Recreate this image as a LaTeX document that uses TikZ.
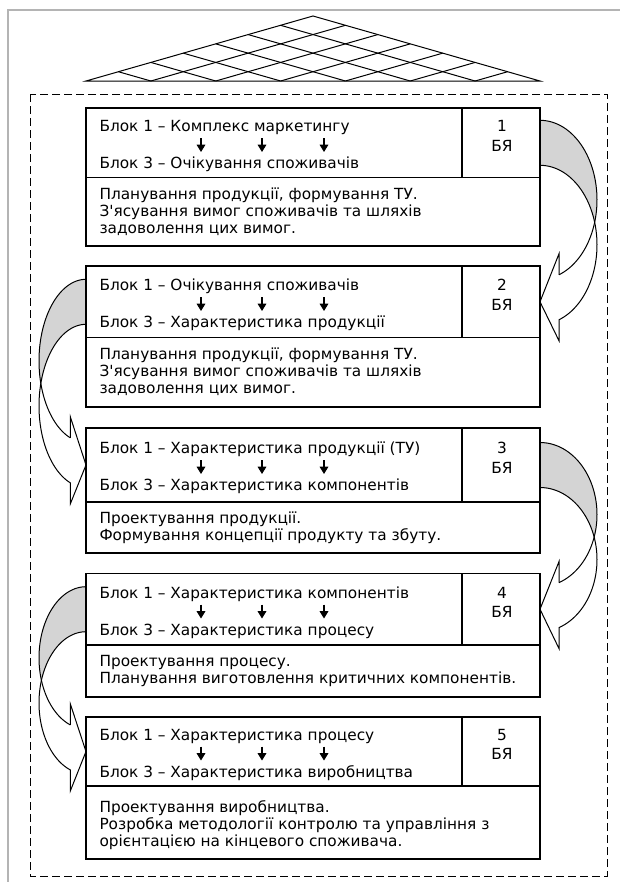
\documentclass[tikz,border=0pt]{standalone}
\usepackage{fontspec}
\setmainfont{DejaVu Sans}
\usetikzlibrary{arrows.meta}
\definecolor{foldgray}{HTML}{D4D4D4}
\definecolor{rimgray}{HTML}{B4B4B4}

\tikzset{
  txt/.style={anchor=base west,inner sep=0pt},
  num/.style={anchor=base,inner sep=0pt},
  body/.style={anchor=west,inner sep=0pt,align=left},
  down/.style={-{Triangle[length=5.5pt,width=6.5pt]},line width=0.9pt}
}

% curved block arrow: #1 edge x, #2 side (1 right, -1 left), #3 start y, #4 tip y
\newcommand{\turnarrow}[4]{
  \pgfmathsetmacro\ary{(#4-#3)/2}
  \pgfmathsetmacro\arx{#2>0 ? 57 : 47}
  \pgfmathsetmacro\acu{#3-22.5+\ary}
  \pgfmathsetmacro\acl{#3+22.5+\ary}
  \pgfmathsetmacro\atc{asin(22.5/\ary)}
  \pgfmathsetmacro\axe{#1+(#2)*\arx/3}
  \pgfmathsetmacro\ayu{\acu+\ary*sin(70.53)}
  \pgfmathsetmacro\ayl{\acl+\ary*sin(70.53)}
  % back side
  \fill[foldgray] plot[domain=90:-\atc,samples=40] ({#1+(#2)*\arx*cos(\x)},{\acu-\ary*sin(\x)})
    -- plot[domain=\atc:90,samples=40] ({#1+(#2)*\arx*cos(\x)},{\acl-\ary*sin(\x)}) -- cycle;
  % front side
  \fill[white] plot[domain=\atc:-70.53,samples=40] ({#1+(#2)*\arx*cos(\x)},{\acl-\ary*sin(\x)})
    -- (\axe,\ayl+21) -- (#1,#4) -- (\axe,\ayu-21) -- (\axe,\ayu)
    -- plot[domain=-70.53:-\atc,samples=40] ({#1+(#2)*\arx*cos(\x)},{\acu-\ary*sin(\x)}) -- cycle;
  % outline
  \draw plot[domain=90:-70.53,samples=60] ({#1+(#2)*\arx*cos(\x)},{\acu-\ary*sin(\x)});
  \draw plot[domain=90:-70.53,samples=60] ({#1+(#2)*\arx*cos(\x)},{\acl-\ary*sin(\x)})
    -- (\axe,\ayl+21) -- (#1,#4) -- (\axe,\ayu-21) -- (\axe,\ayu);
}

\begin{document}
\begin{tikzpicture}[x=0.75pt,y=-0.75pt,line width=0.75pt,
  font=\fontsize{11.5}{12.75}\selectfont]
\useasboundingbox (0,0) rectangle (620,882);
% frame
\draw[rimgray,line width=1.6pt] (8,882) -- (8,10) -- (620,10);
% roof
\draw (86,81) -- (313,16) -- (540,81) -- cycle;
\foreach \i in {1,...,6} {
  \pgfmathsetmacro\xb{86+\i*454/7}
  \draw (\xb,81) -- ({(540+\xb)/2},{81-(540-\xb)/454*65});
  \draw (\xb,81) -- ({(86+\xb)/2},{81-(\xb-86)/454*65});
}
% dashed border
\draw[dash pattern=on 6pt off 3pt] (30,94) rectangle (607,876);
% curved arrows
\turnarrow{540}{1}{142.8}{301.8}
\turnarrow{86}{-1}{301.8}{465}
\turnarrow{540}{1}{465}{609.2}
\turnarrow{86}{-1}{609.2}{751.5}

% block 1
\draw[line width=0.9pt] (86,108) rectangle (540,246);
\draw[line width=0.9pt] (86,177.7) -- (540,177.7) (462,108) -- (462,177.7);
\node[txt] (h1a) at (99,131.5) {Блок 1 – Комплекс маркетингу};
\node[txt] (h1b) at (99,168.5) {Блок 3 – Очікування споживачів};
\node[num] (n1) at (502,131.5) {1};
\node[num] (u1) at (502,151) {БЯ};
\node[body] (d1) at (99,211.8) {Планування продукції, формування ТУ.\\
  З\textquotesingle ясування вимог споживачів та шляхів\\задоволення цих вимог.};
\foreach \x in {201,262,324} \draw[down] (\x,138) -- (\x,152);

% block 2
\draw[line width=0.9pt] (86,266) rectangle (540,407);
\draw[line width=0.9pt] (86,337.5) -- (540,337.5) (462,266) -- (462,337.5);
\node[txt] (h2a) at (99,290.5) {Блок 1 – Очікування споживачів};
\node[txt] (h2b) at (99,327.5) {Блок 3 – Характеристика продукції};
\node[num] (n2) at (502,290.5) {2};
\node[num] (u2) at (502,310) {БЯ};
\node[body] (d2) at (99,372.2) {Планування продукції, формування ТУ.\\
  З\textquotesingle ясування вимог споживачів та шляхів\\задоволення цих вимог.};
\foreach \x in {201,262,324} \draw[down] (\x,297) -- (\x,311);

% block 3
\draw[line width=0.9pt] (86,428) rectangle (540,553);
\draw[line width=0.9pt] (86,502) -- (540,502) (462,428) -- (462,502);
\node[txt] (h3a) at (99,453.5) {Блок 1 – Характеристика продукції (ТУ)};
\node[txt] (h3b) at (99,490.5) {Блок 3 – Характеристика компонентів};
\node[num] (n3) at (502,453.5) {3};
\node[num] (u3) at (502,473) {БЯ};
\node[body] (d3) at (99,527.5) {Проектування продукції.\\Формування концепції продукту та збуту.};
\foreach \x in {201,262,324} \draw[down] (\x,460) -- (\x,474);

% block 4
\draw[line width=0.9pt] (86,573.5) rectangle (540,697);
\draw[line width=0.9pt] (86,645) -- (540,645) (462,573.5) -- (462,645);
\node[txt] (h4a) at (99,598) {Блок 1 – Характеристика компонентів};
\node[txt] (h4b) at (99,635) {Блок 3 – Характеристика процесу};
\node[num] (n4) at (502,598) {4};
\node[num] (u4) at (502,617.5) {БЯ};
\node[body] (d4) at (99,671) {Проектування процесу.\\Планування виготовлення критичних компонентів.};
\foreach \x in {201,262,324} \draw[down] (\x,604.5) -- (\x,618.5);

% block 5
\draw[line width=0.9pt] (86,717) rectangle (540,859);
\draw[line width=0.9pt] (86,786) -- (540,786) (462,717) -- (462,786);
\node[txt] (h5a) at (99,740) {Блок 1 – Характеристика процесу};
\node[txt] (h5b) at (99,777) {Блок 3 – Характеристика виробництва};
\node[num] (n5) at (502,740) {5};
\node[num] (u5) at (502,759.5) {БЯ};
\node[body] (d5) at (99,825.5) {Проектування виробництва.\\
  Розробка методології контролю та управління~з\\орієнтацією на кінцевого споживача.};
\foreach \x in {201,262,324} \draw[down] (\x,746.5) -- (\x,760.5);
\end{tikzpicture}
\end{document}
